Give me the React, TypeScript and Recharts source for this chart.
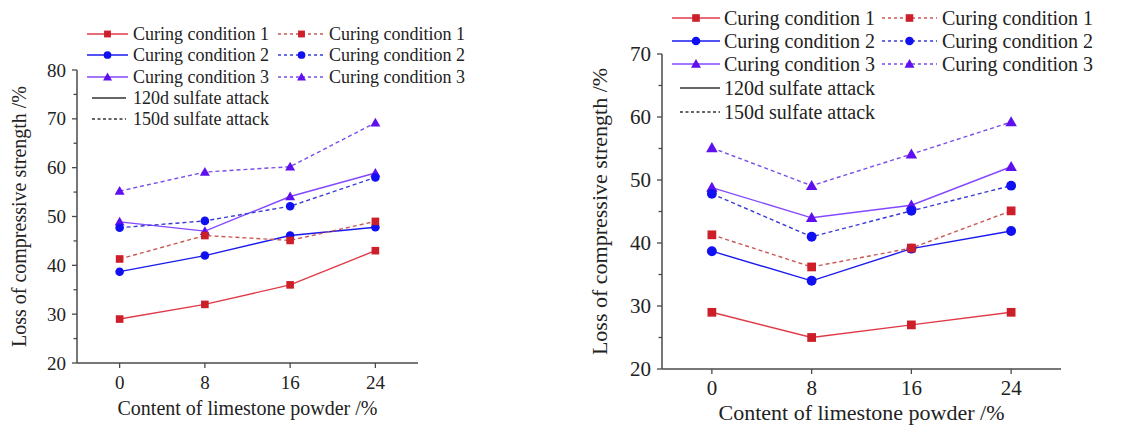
import React from 'react';
import { LineChart, Line, XAxis, YAxis } from 'recharts';

// limestone powder content (%)
const contents = [0, 8, 16, 24];

// loss of compressive strength (%), left panel
const leftCc1d120 = [29, 32, 36, 43];
const leftCc1d150 = [41.3, 46.1, 45.1, 49];
const leftCc2d120 = [38.7, 42, 46.1, 47.8];
const leftCc2d150 = [47.7, 49.1, 52.1, 58];
const leftCc3d120 = [48.9, 47, 54.1, 58.9];
const leftCc3d150 = [55.2, 59.1, 60.2, 69.2];

// loss of compressive strength (%), right panel
const rightCc1d120 = [29, 25, 27, 29];
const rightCc1d150 = [41.3, 36.2, 39.2, 45.1];
const rightCc2d120 = [38.7, 34, 39.1, 41.9];
const rightCc2d150 = [47.8, 41, 45.1, 49.1];
const rightCc3d120 = [48.8, 44, 46, 52.1];
const rightCc3d150 = [55.1, 49.1, 54.1, 59.2];

const xTicks = [0, 8, 16, 24];
const leftYTicks = [20, 25, 30, 35, 40, 45, 50, 55, 60, 65, 70, 75, 80];
const rightYTicks = [20, 25, 30, 35, 40, 45, 50, 55, 60, 65, 70];

const conditionNames = ['Curing condition 1', 'Curing condition 2', 'Curing condition 3'];
const ageNames = ['120d sulfate attack', '150d sulfate attack'];

type Shape = 'square' | 'circle' | 'triangle';

const STYLES: { line: string; dashLine: string; marker: string; shape: Shape }[] = [
  { line: '#e03a48', dashLine: '#c85a55', marker: '#cc1f2a', shape: 'square' },
  { line: '#1a1aee', dashLine: '#3a3ad8', marker: '#1010f0', shape: 'circle' },
  { line: '#8448ff', dashLine: '#7a4ee8', marker: '#6010ee', shape: 'triangle' },
];

const FONT = '"Liberation Serif", "Times New Roman", serif';
const AXIS = '#4a4a4a';
const TEXT = '#222';
const DASH = '4 3';

const Marker = ({ cx, cy, shape, color, s = 1 }: { cx: number; cy: number; shape: Shape; color: string; s?: number }) => {
  if (shape === 'square') {
    const h = 3.8 * s;
    return <rect x={cx - h} y={cy - h} width={h * 2} height={h * 2} fill={color} />;
  }
  if (shape === 'circle') return <circle cx={cx} cy={cy} r={4.3 * s} fill={color} />;
  const h = 5 * s;
  return <polygon points={`${cx},${cy - h} ${cx + h},${cy + h * 0.75} ${cx - h},${cy + h * 0.75}`} fill={color} />;
};

const buildRows = (series: number[][]) =>
  contents.map((c, i) => {
    const row: Record<string, number> = { x: c };
    series.forEach((s, k) => {
      row[`s${k}`] = s[i];
    });
    return row;
  });

const leftData = buildRows([leftCc1d120, leftCc2d120, leftCc3d120, leftCc1d150, leftCc2d150, leftCc3d150]);
const rightData = buildRows([rightCc1d120, rightCc2d120, rightCc3d120, rightCc1d150, rightCc2d150, rightCc3d150]);

interface PanelProps {
  data: Record<string, number>[];
  width: number;
  yDomain: [number, number];
  yTicks: number[];
  yAxisWidth: number;
  margin: { top: number; right: number; left: number; bottom: number };
  xAxisHeight: number;
  tickFont: number;
  labelFont: number;
  xLabelDy: number;
  xTitleY: number;
  yTitleX: number;
  s: number;
}

const Panel = ({ data, width, yDomain, yTicks, yAxisWidth, margin, xAxisHeight, tickFont, labelFont, xLabelDy, xTitleY, yTitleX, s }: PanelProps) => {
  const yTick = (p: any) => {
    const v = p.payload.value;
    const major = v % 10 === 0;
    return (
      <g>
        <line x1={p.x - (major ? 5 : 3.5)} x2={p.x} y1={p.y} y2={p.y} stroke={AXIS} strokeWidth={1.3} />
        {major && (
          <text x={p.x - 11} y={p.y} dy="0.35em" textAnchor="end" fontSize={tickFont} fontFamily={FONT} fill={TEXT}>
            {v}
          </text>
        )}
      </g>
    );
  };
  const xTick = (p: any) => (
    <g>
      <line x1={p.x} x2={p.x} y1={p.y} y2={p.y + 5} stroke={AXIS} strokeWidth={1.3} />
      <text x={p.x} y={p.y + xLabelDy} dy="0.35em" textAnchor="middle" fontSize={tickFont} fontFamily={FONT} fill={TEXT}>
        {p.payload.value}
      </text>
    </g>
  );

  const lines = [0, 1, 2, 3, 4, 5].map((k) => {
    const st = STYLES[k % 3];
    const dashed = k >= 3;
    return (
      <Line
        key={k}
        dataKey={`s${k}`}
        type="linear"
        stroke={dashed ? st.dashLine : st.line}
        strokeWidth={1.4}
        strokeDasharray={dashed ? DASH : undefined}
        isAnimationActive={false}
        dot={(d: any) => <Marker key={`${k}-${d.index}`} cx={d.cx} cy={d.cy} shape={st.shape} color={st.marker} s={s} />}
        activeDot={false}
      />
    );
  });

  return (
    <LineChart width={width} height={425} data={data} margin={margin}>
      <XAxis
        dataKey="x"
        type="number"
        domain={[-4, 28]}
        ticks={xTicks}
        allowDataOverflow
        height={xAxisHeight}
        stroke={AXIS}
        strokeWidth={1.5}
        tickLine={false}
        tickSize={0}
        tickMargin={0}
        tick={xTick}
        label={{
          content: (lp: any) => (
            <text
              x={lp.viewBox.x + lp.viewBox.width / 2}
              y={xTitleY}
              dy="0.35em"
              textAnchor="middle"
              fontSize={labelFont}
              fontFamily={FONT}
              fill={TEXT}
            >
              Content of limestone powder /%
            </text>
          ),
        }}
      />
      <YAxis
        type="number"
        domain={yDomain}
        ticks={yTicks}
        interval={0}
        width={yAxisWidth}
        stroke={AXIS}
        strokeWidth={1.5}
        tickLine={false}
        tickSize={0}
        tickMargin={0}
        tick={yTick}
        label={{
          content: (lp: any) => {
            const cy = lp.viewBox.y + lp.viewBox.height / 2;
            return (
              <text
                x={yTitleX}
                y={cy}
                dy="0.35em"
                textAnchor="middle"
                transform={`rotate(-90 ${yTitleX} ${cy})`}
                fontSize={labelFont}
                fontFamily={FONT}
                fill={TEXT}
              >
                Loss of compressive strength /%
              </text>
            );
          },
        }}
      />
      {lines}
    </LineChart>
  );
};

interface LegendBoxProps {
  rows: number[];
  col1: [number, number];
  col2: [number, number];
  text1: number;
  text2: number;
  ageLine: [number, number];
  font: number;
  s: number;
}

const LegendBox = ({ rows, col1, col2, text1, text2, ageLine, font, s }: LegendBoxProps) => (
  <svg width={560} height={140} style={{ position: 'absolute', left: 0, top: 0, overflow: 'visible' }}>
    {conditionNames.map((name, i) => {
      const st = STYLES[i];
      const y = rows[i];
      return (
        <g key={name}>
          <line x1={col1[0]} x2={col1[1]} y1={y} y2={y} stroke={st.line} strokeWidth={1.4} />
          <Marker cx={(col1[0] + col1[1]) / 2} cy={y} shape={st.shape} color={st.marker} s={s} />
          <text x={text1} y={y} dy="0.35em" fontSize={font} fontFamily={FONT} fill={TEXT}>
            {name}
          </text>
          <line x1={col2[0]} x2={col2[1]} y1={y} y2={y} stroke={st.dashLine} strokeWidth={1.4} strokeDasharray="3 3" />
          <Marker cx={(col2[0] + col2[1]) / 2} cy={y} shape={st.shape} color={st.marker} s={s} />
          <text x={text2} y={y} dy="0.35em" fontSize={font} fontFamily={FONT} fill={TEXT}>
            {name}
          </text>
        </g>
      );
    })}
    {ageNames.map((name, i) => {
      const y = rows[3 + i];
      return (
        <g key={name}>
          <line
            x1={ageLine[0]}
            x2={ageLine[1]}
            y1={y}
            y2={y}
            stroke="#333"
            strokeWidth={1.3}
            strokeDasharray={i === 1 ? '3 2.5' : undefined}
          />
          <text x={text1} y={y} dy="0.35em" fontSize={font} fontFamily={FONT} fill={TEXT}>
            {name}
          </text>
        </g>
      );
    })}
  </svg>
);

export default function App() {
  return (
    <div style={{ position: 'absolute', left: 0, top: 0, width: 1126, height: 425, background: '#fff', overflow: 'hidden' }}>
      <div style={{ position: 'absolute', left: 0, top: 0 }}>
        <Panel
          data={leftData}
          width={560}
          yDomain={[20, 80]}
          yTicks={leftYTicks}
          yAxisWidth={77}
          margin={{ top: 70, right: 142, left: 0, bottom: 0 }}
          xAxisHeight={62}
          tickFont={19}
          labelFont={20}
          xLabelDy={19}
          xTitleY={408}
          yTitleX={19}
          s={1}
        />
        <LegendBox
          rows={[34, 55, 77, 98, 119]}
          col1={[87, 128]}
          col2={[278, 325]}
          text1={133}
          text2={329}
          ageLine={[92, 126]}
          font={18}
          s={0.9}
        />
      </div>
      <div style={{ position: 'absolute', left: 580, top: 0 }}>
        <Panel
          data={rightData}
          width={546}
          yDomain={[20, 70]}
          yTicks={rightYTicks}
          yAxisWidth={82}
          margin={{ top: 54, right: 65, left: 0, bottom: 0 }}
          xAxisHeight={56}
          tickFont={21}
          labelFont={22}
          xLabelDy={19}
          xTitleY={412}
          yTitleX={19}
          s={1.15}
        />
        <LegendBox
          rows={[18, 41, 64, 88, 112]}
          col1={[92, 140]}
          col2={[302, 357]}
          text1={144}
          text2={362}
          ageLine={[100, 140]}
          font={20}
          s={1}
        />
      </div>
    </div>
  );
}
